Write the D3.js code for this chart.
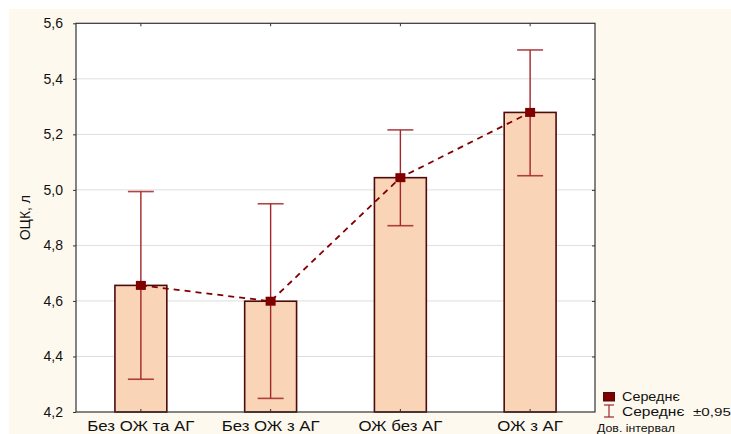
<!DOCTYPE html>
<html>
<head>
<meta charset="utf-8">
<script src="https://cdn.jsdelivr.net/npm/d3@7"></script>
<style>
  html, body { margin: 0; padding: 0; background: #ffffff; }
  svg { display: block; font-family: "Liberation Sans", Arial, sans-serif; }
</style>
</head>
<body>
<script>
// Mean circulating blood volume per group with 95% confidence intervals
const categories = ["Без ОЖ та АГ", "Без ОЖ з АГ", "ОЖ без АГ", "ОЖ з АГ"];
const means = [4.656, 4.599, 5.044, 5.279];
const ciLower = [4.318, 4.249, 4.871, 5.051];
const ciUpper = [4.994, 4.950, 5.216, 5.504];
const yTicks = [4.2, 4.4, 4.6, 4.8, 5.0, 5.2, 5.4, 5.6];

const W = 731, H = 434;
const plot = { left: 76, right: 595, top: 23.3, bottom: 412 };

const svg = d3.select("body").append("svg")
  .attr("width", W).attr("height", H);

// widen text horizontally by a factor, keeping its anchor
function stretch(sel, k) {
  sel.each(function () {
    const len = this.getComputedTextLength();
    d3.select(this).attr("textLength", len * k).attr("lengthAdjust", "spacingAndGlyphs");
  });
}

// cream panel behind the chart
svg.append("rect").attr("x", 9).attr("y", 9).attr("width", W - 9).attr("height", H - 9)
  .attr("fill", "#fef9ee");
svg.append("rect").attr("x", plot.left).attr("y", plot.top)
  .attr("width", plot.right - plot.left).attr("height", plot.bottom - plot.top)
  .attr("fill", "#ffffff");

const x = d3.scaleBand().domain(categories).range([plot.left, plot.right]).padding(0);
const y = d3.scaleLinear().domain([4.2, 5.6]).range([plot.bottom, plot.top]);
const fmt = v => d3.format(".1f")(v).replace(".", ",");

// grid
svg.append("g").selectAll("line").data(yTicks.slice(1, -1)).join("line")
  .attr("x1", plot.left).attr("x2", plot.right)
  .attr("y1", d => y(d)).attr("y2", d => y(d))
  .attr("stroke", "#dedede").attr("stroke-width", 1);

// bars
const bw = x.bandwidth() * 0.4;
svg.append("g").selectAll("rect").data(categories).join("rect")
  .attr("x", d => x(d) + (x.bandwidth() - bw) / 2)
  .attr("y", (d, i) => y(means[i]))
  .attr("width", bw)
  .attr("height", (d, i) => y(4.2) - y(means[i]))
  .attr("fill", "#f9d4b6")
  .attr("stroke", "#4d0b0b").attr("stroke-width", 1.6);

// frame
svg.append("rect").attr("x", plot.left).attr("y", plot.top)
  .attr("width", plot.right - plot.left).attr("height", plot.bottom - plot.top)
  .attr("fill", "none").attr("stroke", "#333").attr("stroke-width", 1.2);

// axes
const yAxis = d3.axisLeft(y).tickValues(yTicks).tickFormat(fmt).tickSize(3).tickPadding(10);
const gy = svg.append("g").attr("transform", `translate(${plot.left},0)`).call(yAxis);
gy.select(".domain").remove();
gy.selectAll("line").attr("stroke", "#333");
gy.selectAll("text").attr("font-size", 14).attr("fill", "#111");

const yRight = d3.axisLeft(y).tickValues(yTicks.slice(1, -1)).tickSize(3).tickFormat("");
const gyr = svg.append("g").attr("transform", `translate(${plot.right},0)`).call(yRight);
gyr.select(".domain").remove();
gyr.selectAll("line").attr("x2", -3).attr("stroke", "#333");

const xAxis = d3.axisBottom(x).tickSize(0).tickPadding(9);
const gx = svg.append("g").attr("transform", `translate(0,${plot.bottom})`).call(xAxis);
gx.select(".domain").remove();
gx.selectAll("text").attr("font-size", 14).attr("fill", "#111").call(stretch, 1.2);
// small inner category ticks
svg.append("g").selectAll("line").data(categories).join("line")
  .attr("x1", d => x(d) + x.bandwidth() / 2).attr("x2", d => x(d) + x.bandwidth() / 2)
  .attr("y1", plot.bottom).attr("y2", plot.bottom - 3).attr("stroke", "#333");
svg.append("g").selectAll("line").data(categories).join("line")
  .attr("x1", d => x(d) + x.bandwidth() / 2).attr("x2", d => x(d) + x.bandwidth() / 2)
  .attr("y1", plot.top).attr("y2", plot.top + 3).attr("stroke", "#333");

svg.append("text")
  .attr("transform", `translate(30,${(plot.top + plot.bottom) / 2}) rotate(-90)`)
  .attr("text-anchor", "middle").attr("font-size", 14).attr("fill", "#111")
  .text("ОЦК, л");

const cx = d => x(d) + x.bandwidth() / 2;
const errColor = "#a3262a";
const capW = bw / 2;

// confidence intervals
const eg = svg.append("g");
eg.selectAll("line.stem").data(categories).join("line").attr("class", "stem")
  .attr("x1", cx).attr("x2", cx)
  .attr("y1", (d, i) => y(ciLower[i])).attr("y2", (d, i) => y(ciUpper[i]))
  .attr("stroke", errColor).attr("stroke-width", 1.4);
eg.selectAll("line.capU").data(categories).join("line").attr("class", "capU")
  .attr("x1", d => cx(d) - capW / 2).attr("x2", d => cx(d) + capW / 2)
  .attr("y1", (d, i) => y(ciUpper[i])).attr("y2", (d, i) => y(ciUpper[i]))
  .attr("stroke", errColor).attr("stroke-width", 1.6).attr("opacity", 0.85);
eg.selectAll("line.capL").data(categories).join("line").attr("class", "capL")
  .attr("x1", d => cx(d) - capW / 2).attr("x2", d => cx(d) + capW / 2)
  .attr("y1", (d, i) => y(ciLower[i])).attr("y2", (d, i) => y(ciLower[i]))
  .attr("stroke", errColor).attr("stroke-width", 1.6).attr("opacity", 0.85);

// dashed line joining the means
const line = d3.line().x(d => cx(d)).y((d, i) => y(means[i]));
svg.append("path").datum(categories).attr("d", line)
  .attr("fill", "none").attr("stroke", "#800000").attr("stroke-width", 1.8)
  .attr("stroke-dasharray", "6,5");

// mean markers
svg.append("g").selectAll("rect").data(categories).join("rect")
  .attr("x", d => cx(d) - 5).attr("y", (d, i) => y(means[i]) - 4.5)
  .attr("width", 10).attr("height", 9).attr("fill", "#800000");

// legend
const lg = svg.append("g");
lg.append("rect").attr("x", 603.5).attr("y", 392.5).attr("width", 11).attr("height", 8.5)
  .attr("fill", "#800000").attr("stroke", "#4d0b0b");
lg.append("text").attr("x", 622).attr("y", 401).attr("font-size", 12.5).attr("fill", "#111")
  .text("Середнє").call(stretch, 1.15);
lg.append("line").attr("x1", 609).attr("x2", 609).attr("y1", 405).attr("y2", 417).attr("stroke", errColor).attr("stroke-width", 1.2);
lg.append("line").attr("x1", 604).attr("x2", 614).attr("y1", 405).attr("y2", 405).attr("stroke", errColor).attr("stroke-width", 1.2);
lg.append("line").attr("x1", 604).attr("x2", 614).attr("y1", 417).attr("y2", 417).attr("stroke", errColor).attr("stroke-width", 1.2);
lg.append("text").attr("x", 622).attr("y", 416).attr("font-size", 13.5).attr("fill", "#111")
  .text("Середнє").call(stretch, 1.15);
lg.append("text").attr("x", 693).attr("y", 416).attr("font-size", 11.5).attr("fill", "#111")
  .text("±0,95").call(stretch, 1.32);
lg.append("text").attr("x", 597).attr("y", 432).attr("font-size", 11).attr("fill", "#111")
  .text("Дов. інтервал").call(stretch, 1.12);
</script>
</body>
</html>
